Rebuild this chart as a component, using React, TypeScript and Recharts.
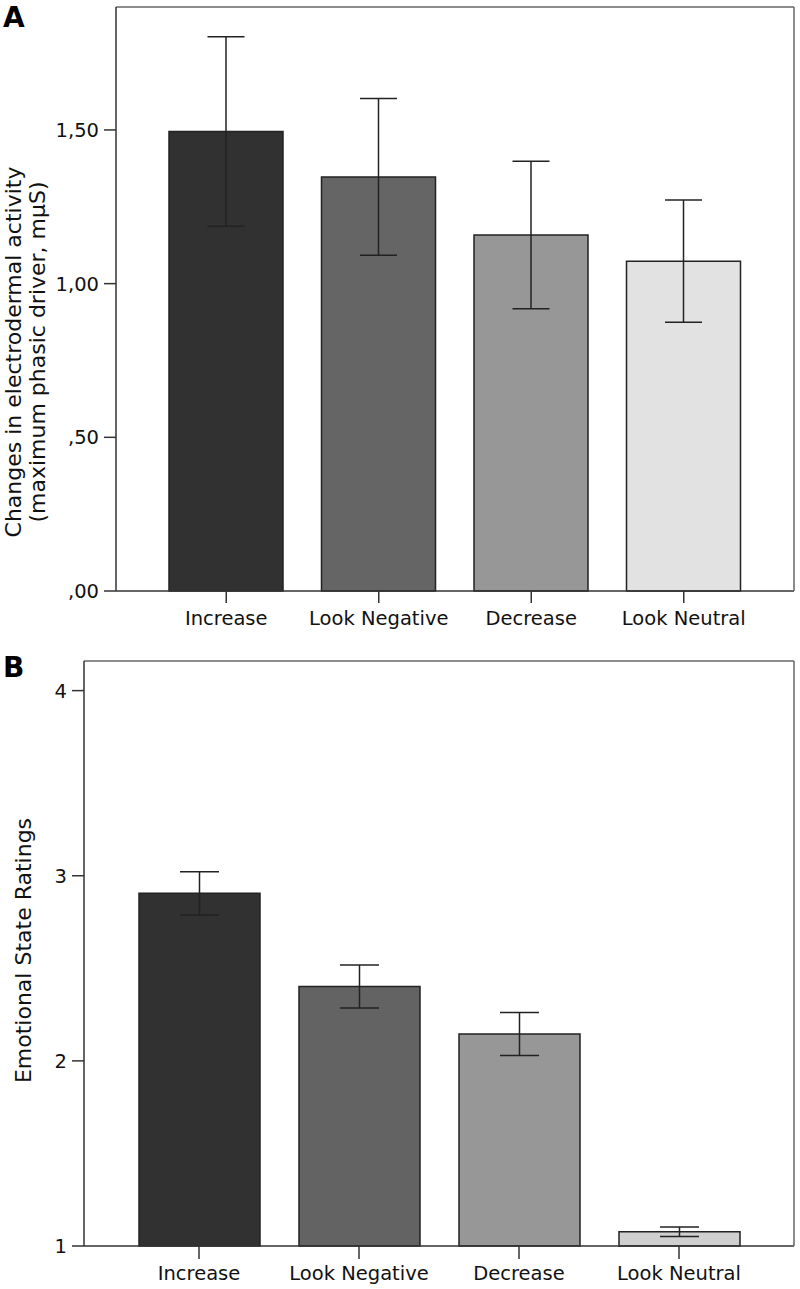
import React from 'react';
import { BarChart, Bar, XAxis, YAxis, ErrorBar, Cell } from 'recharts';

const categories = ['Increase', 'Look Negative', 'Decrease', 'Look Neutral'];

// Panel A: electrodermal activity
const edaMeans = [1.495, 1.347, 1.158, 1.073];
const edaErrors = [0.308, 0.255, 0.240, 0.199];
const edaTicks = [0, 0.5, 1.0, 1.5];
const edaTickLabels = [',00', ',50', '1,00', '1,50'];
const edaColors = ['#313131', '#656565', '#979797', '#e2e2e2'];

// Panel B: emotional state ratings
const ratingMeans = [2.905, 2.402, 2.145, 1.077];
const ratingErrors = [0.117, 0.116, 0.116, 0.026];
const ratingTicks = [1, 2, 3, 4];
const ratingTickLabels = ['1', '2', '3', '4'];
const ratingColors = ['#313131', '#636363', '#979797', '#cfcfcf'];

const FONT = 'DejaVu Sans';
const tickStyle = { fontFamily: FONT, fontSize: 19.5, fill: '#111' };

const edaData = categories.map((name, i) => ({ name, mean: edaMeans[i], err: edaErrors[i] }));
const ratingData = categories.map((name, i) => ({ name, mean: ratingMeans[i], err: ratingErrors[i] }));

const LabelA = (props: any) => {
  const vb = props.viewBox || { x: 0, y: 0, width: 0, height: 0 };
  const cx = vb.x + 21;
  const cy = vb.y + vb.height / 2 + 53;
  return (
    <text
      x={cx}
      y={cy}
      transform={`rotate(-90, ${cx}, ${cy})`}
      textAnchor="middle"
      fontFamily={FONT}
      fontSize={22}
      fill="#111"
    >
      <tspan x={cx} dy={0}>Changes in electrodermal activity</tspan>
      <tspan x={cx} dy={24}>(maximum phasic driver, mμS)</tspan>
    </text>
  );
};

const LabelB = (props: any) => {
  const vb = props.viewBox || { x: 0, y: 0, width: 0, height: 0 };
  const cx = vb.x + 31;
  const cy = vb.y + vb.height / 2 - 3;
  return (
    <text
      x={cx}
      y={cy}
      transform={`rotate(-90, ${cx}, ${cy})`}
      textAnchor="middle"
      fontFamily={FONT}
      fontSize={22}
      fill="#111"
    >
      Emotional State Ratings
    </text>
  );
};

const axisLine = { stroke: '#333', strokeWidth: 1.5 };
const frameLine = { stroke: '#666', strokeWidth: 1.5 };

export default function App() {
  return (
    <div style={{ position: 'absolute', left: 0, top: 0, width: 800, height: 1289, background: '#fff' }}>
      <div style={{ position: 'absolute', left: 3, top: 4, fontFamily: FONT, fontWeight: 'bold', fontSize: 28, lineHeight: 1, color: '#000' }}>A</div>
      <div style={{ position: 'absolute', left: 3, top: 654, fontFamily: FONT, fontWeight: 'bold', fontSize: 28, lineHeight: 1, color: '#000' }}>B</div>

      <div style={{ position: 'absolute', left: 0, top: 0 }}>
        <BarChart width={800} height={640} data={edaData} margin={{ top: 6, right: 5, left: 0, bottom: 0 }}>
          <XAxis
            dataKey="name"
            height={49}
            padding={{ left: 34, right: 34 }}
            axisLine={axisLine}
            tickLine={{ stroke: '#333', strokeWidth: 1.5 }}
            tickSize={12}
            tickMargin={8}
            tick={tickStyle}
            interval={0}
          />
          <XAxis xAxisId="top" dataKey="name" orientation="top" height={1} tick={false} tickLine={false} axisLine={frameLine} />
          <YAxis
            type="number"
            domain={[0, 1.9]}
            ticks={edaTicks}
            width={116}
            axisLine={axisLine}
            tickLine={{ stroke: '#333', strokeWidth: 1.5 }}
            tickSize={12}
            tickMargin={5}
            tick={tickStyle}
            tickFormatter={(v: number) => edaTickLabels[edaTicks.indexOf(v)] ?? String(v)}
            label={{ content: LabelA }}
          />
          <YAxis yAxisId="right" orientation="right" type="number" domain={[0, 1]} width={1} tick={false} tickLine={false} axisLine={frameLine} />
          <Bar dataKey="mean" barSize={114} stroke="#222" strokeWidth={1.5} isAnimationActive={false}>
            {edaData.map((d, i) => (
              <Cell key={d.name} fill={edaColors[i]} />
            ))}
            <ErrorBar dataKey="err" width={18.5} stroke="#222" strokeWidth={1.5} isAnimationActive={false} />
          </Bar>
        </BarChart>
      </div>

      <div style={{ position: 'absolute', left: 0, top: 640 }}>
        <BarChart width={800} height={649} data={ratingData} margin={{ top: 20, right: 5, left: 0, bottom: 0 }}>
          <XAxis
            dataKey="name"
            height={43}
            padding={{ left: 35, right: 35 }}
            axisLine={axisLine}
            tickLine={{ stroke: '#333', strokeWidth: 1.5 }}
            tickSize={13}
            tickMargin={7}
            tick={tickStyle}
            interval={0}
          />
          <XAxis xAxisId="top" dataKey="name" orientation="top" height={1} tick={false} tickLine={false} axisLine={frameLine} />
          <YAxis
            type="number"
            domain={[1, 4.16]}
            ticks={ratingTicks}
            width={84}
            axisLine={axisLine}
            tickLine={{ stroke: '#333', strokeWidth: 1.5 }}
            tickSize={12}
            tickMargin={5}
            tick={tickStyle}
            tickFormatter={(v: number) => ratingTickLabels[ratingTicks.indexOf(v)] ?? String(v)}
            label={{ content: LabelB }}
          />
          <YAxis yAxisId="right" orientation="right" type="number" domain={[0, 1]} width={1} tick={false} tickLine={false} axisLine={frameLine} />
          <Bar dataKey="mean" barSize={121} stroke="#222" strokeWidth={1.5} isAnimationActive={false}>
            {ratingData.map((d, i) => (
              <Cell key={d.name} fill={ratingColors[i]} />
            ))}
            <ErrorBar dataKey="err" width={19.5} stroke="#222" strokeWidth={1.5} isAnimationActive={false} />
          </Bar>
        </BarChart>
      </div>
    </div>
  );
}
